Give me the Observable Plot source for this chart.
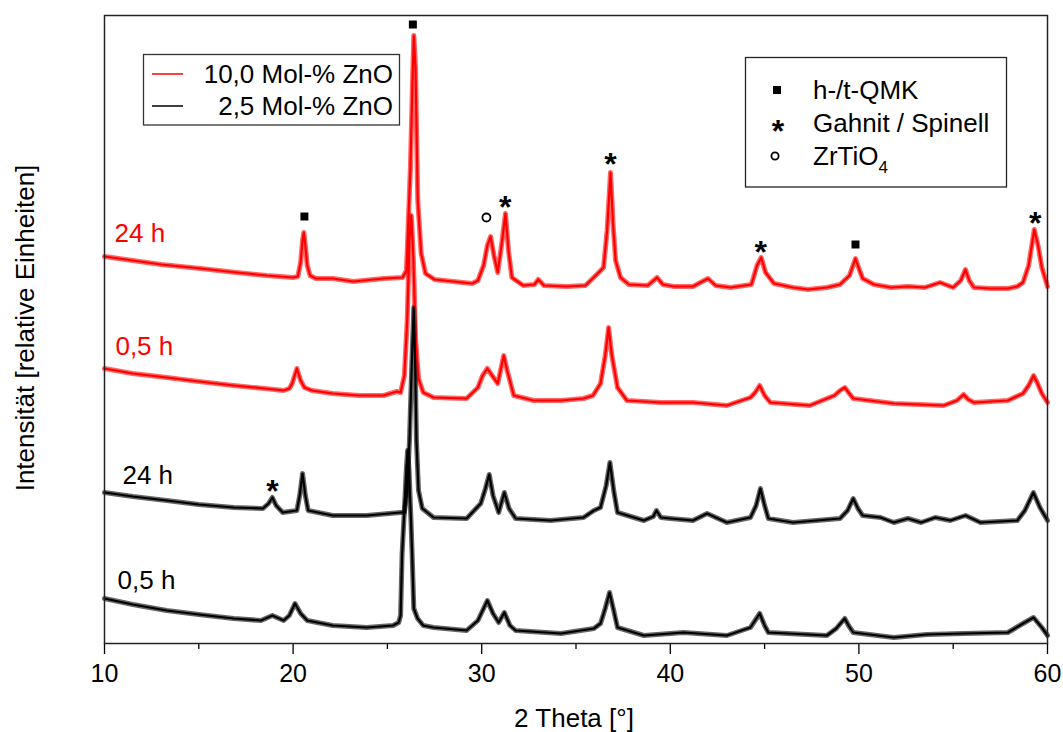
<!DOCTYPE html>
<html><head><meta charset="utf-8">
<script src="https://cdn.jsdelivr.net/npm/d3@7"></script>
<script src="https://cdn.jsdelivr.net/npm/@observablehq/plot@0.6"></script>
<style>
body{margin:0;background:#fff}
#chart{position:relative;width:1063px;height:732px}
</style>
</head><body><div id="chart"></div>
<script>
// ---- data: [2 Theta (°), intensity (relative units)] ----
const majorTicks = [10, 20, 30, 40, 50, 60];
const minorTicks = [15, 25, 35, 45, 55];

const red24h = [[10,387],[11.5,383],[13,379],[15.1,375],[17,371],[18.6,368],[20,366],[20.25,367],[20.4,381],[20.5,403],[20.57,411],[20.65,398],[20.75,378],[20.9,368],[21.2,365],[22.1,365],[23.2,362],[24.8,365],[25.8,366],[26.01,373],[26.22,476],[26.33,560],[26.4,608],[26.49,576],[26.61,443],[26.79,390],[27.02,370],[27.5,364],[28.5,362],[29.5,360],[29.8,363],[30.1,378],[30.3,398],[30.47,407],[30.65,388],[30.85,371],[31.05,398],[31.26,430],[31.42,393],[31.6,366],[32.2,358],[32.8,359],[33,364],[33.3,358],[34.5,357],[35.5,358],[36.1,369],[36.46,376],[36.65,413],[36.83,471],[36.97,418],[37.1,383],[37.36,366],[37.8,359],[38.8,358],[39.3,366],[39.6,359],[40.2,357],[41.2,357],[42,365],[42.4,358],[43.2,356],[44.3,359],[44.6,378],[44.82,386],[45.05,371],[45.5,360],[46.5,356],[47.3,354],[48.3,356],[49,359],[49.5,368],[49.82,385],[50,375],[50.2,365],[50.8,359],[51.7,356],[52.6,357],[53.5,356],[54.3,361],[55,356],[55.4,363],[55.65,374],[55.85,363],[56.1,356],[57,355],[57.9,355],[58.4,357],[58.7,361],[59,378],[59.3,414],[59.5,398],[59.7,376],[60,357]];

const red05h = [[10,275],[11.5,270],[13.3,266],[15,262],[16.85,258],[18.5,255],[19.5,253],[19.8,255],[19.95,260],[20.2,275],[20.4,263],[20.6,256],[21,253],[22.1,250],[23.5,248],[24.8,248],[25.5,252],[25.7,251],[25.9,268],[26.05,323],[26.17,403],[26.27,428],[26.38,383],[26.5,303],[26.65,265],[26.9,251],[27.45,246],[29.2,245],[29.8,256],[30.05,268],[30.3,275],[30.55,268],[30.85,260],[31,273],[31.17,288],[31.35,273],[31.7,248],[32.75,243],[34.2,243],[35.4,245],[35.9,248],[36.3,260],[36.55,288],[36.73,316],[36.9,288],[37.2,256],[37.7,243],[39.5,241],[41.2,241],[43,238],[44.25,246],[44.5,251],[44.74,258],[45,248],[45.3,241],[47.4,238],[48.7,248],[49,253],[49.25,256],[49.45,251],[49.7,245],[51.85,240],[54.5,238],[55.2,243],[55.55,249],[55.8,244],[56.1,241],[57.9,243],[58.7,250],[59,258],[59.26,268],[59.45,261],[59.7,250],[60,241]];

const black24h = [[10,151],[11.5,147],[13.3,143],[15,139],[16.85,136],[18.4,135],[18.7,140],[18.9,146],[19.1,138],[19.45,131],[20.2,133],[20.35,148],[20.5,170],[20.65,148],[20.8,133],[22.1,128],[23.9,128],[25.7,131],[25.9,131],[26.05,153],[26.17,203],[26.3,283],[26.4,336],[26.47,283],[26.54,203],[26.65,153],[26.85,135],[27.45,126],[29.2,125],[29.95,140],[30.2,155],[30.4,169],[30.6,148],[30.9,131],[31.2,151],[31.45,135],[31.8,125],[33.65,123],[35.4,126],[35.95,133],[36.3,136],[36.6,158],[36.8,181],[37,153],[37.2,131],[38.6,123],[39.1,127],[39.27,133],[39.5,126],[40,125],[41.2,123],[41.95,130],[43,121],[44.25,126],[44.55,138],[44.78,155],[45,138],[45.2,125],[46.5,121],[49,125],[49.4,133],[49.7,145],[49.95,135],[50.2,128],[51.15,126],[51.85,121],[52.6,125],[53.3,121],[54.05,126],[54.85,123],[55.65,128],[56.45,121],[58.4,123],[58.8,133],[59.25,151],[59.6,136],[60,123]];

const black05h = [[10,45],[11.5,39],[13.3,33],[15,29],[16.85,25],[18.3,23],[18.9,28],[19.5,23],[19.8,28],[20.1,40],[20.4,30],[20.75,23],[22.1,18],[23.9,16],[25.3,18],[25.6,21],[25.7,28],[25.78,90],[25.9,133],[26,173],[26.07,193],[26.15,173],[26.25,123],[26.31,90],[26.4,35],[26.6,25],[26.9,18],[27.45,16],[29.2,13],[29.8,23],[30.3,43],[30.6,30],[30.9,21],[31.2,31],[31.5,18],[31.8,13],[34.2,10],[34.55,11],[35.95,15],[36.3,20],[36.55,35],[36.78,51],[37,33],[37.2,16],[38.6,8],[40.7,11],[43,8],[44.25,16],[44.74,30],[45,18],[45.2,11],[48.3,8],[48.8,15],[49.25,25],[49.45,18],[49.7,11],[51.85,6],[53.6,9],[55.55,10],[57.9,11],[58.7,20],[59.26,26],[59.7,16],[60,8]];

const series = [
  {name: "10,0 Mol-% ZnO 0,5 h", color: "#ff0000", values: red05h},
  {name: "10,0 Mol-% ZnO 24 h", color: "#ff0000", values: red24h},
  {name: "2,5 Mol-% ZnO 24 h", color: "#000000", values: black24h},
  {name: "2,5 Mol-% ZnO 0,5 h", color: "#000000", values: black05h}
];

// phase markers above peaks: [2 Theta, level]
const squareMarks = [[26.35,619],[20.6,427],[49.82,399]];
const starMarks = [[31.25,445],[36.83,488],[44.8,400],[59.35,429],[18.9,161]];
const circleMarks = [[30.25,426]];

// sample labels: [2 Theta, level, text, colour]
const sampleLabels = [[10.53,410,"24 h","#ff0000"],[10.58,297,"0,5 h","#ff0000"],[10.95,168,"24 h","#000000"],[10.69,63,"0,5 h","#000000"]];

const legendSeries = [["10,0 Mol-% ZnO","#ff0000"],["2,5 Mol-% ZnO","#000000"]];
const legendPhases = ["h-/t-QMK","Gahnit / Spinell","ZrTiO"];

// ---- plot ----
const rows = series.flatMap(s => s.values.map(([x, y]) => ({x, y, name: s.name, color: s.color})));
const FONT = "Liberation Sans, Arial, sans-serif";

const chart = Plot.plot({
  width: 1063, height: 732,
  marginLeft: 104, marginRight: 16, marginTop: 15, marginBottom: 89,
  x: {domain: [10, 60]},
  y: {domain: [0, 628], axis: null},
  style: {fontFamily: FONT, background: "#fff", color: "#000"},
  marks: [
    Plot.axisX({ticks: majorTicks, tickSize: 11, tickPadding: 10, fontSize: 25, label: null, strokeWidth: 1.3, tickFormat: d => d}),
    Plot.axisX({ticks: minorTicks, tickSize: 6, tickFormat: () => "", label: null, strokeWidth: 1.3}),
    Plot.line(rows, {x: "x", y: "y", z: "name", stroke: "color", strokeWidth: 5, strokeOpacity: 0.6, strokeLinejoin: "round"}),
    Plot.line(rows, {x: "x", y: "y", z: "name", stroke: "color", strokeWidth: 2.2}),
    Plot.frame({stroke: "#222", strokeWidth: 1.5}),
    Plot.dot(squareMarks, {x: d => d[0], y: d => d[1], symbol: "square", fill: "#000", r: 4.5}),
    Plot.dot(circleMarks, {x: d => d[0], y: d => d[1], symbol: "circle", fill: "none", stroke: "#000", strokeWidth: 1.8, r: 4}),
    Plot.text(starMarks, {x: d => d[0], y: d => d[1], text: () => "*", fontSize: 32, fontWeight: "bold", dy: 9, fill: "#000"}),
    Plot.text(sampleLabels, {x: d => d[0], y: d => d[1], text: d => d[2], fill: d => d[3], textAnchor: "start", fontSize: 26})
  ]
});
document.getElementById("chart").appendChild(chart);

// ---- titles and legends (drawn into the same svg) ----
const svg = d3.select(chart);
const g = svg.append("g").attr("font-family", FONT).attr("font-size", 26).attr("fill", "#000").attr("text-anchor", "start");

g.append("text").attr("x", 574).attr("y", 718).attr("text-anchor", "middle").attr("dy", "0.35em").text("2 Theta [°]");
g.append("text").attr("transform", "translate(25,328) rotate(-90)").attr("text-anchor", "middle").attr("dy", "0.35em").text("Intensität [relative Einheiten]");

// series legend
g.append("rect").attr("x", 143.5).attr("y", 54.5).attr("width", 256).attr("height", 70.5).attr("fill", "#fff").attr("stroke", "#333").attr("stroke-width", 1.3);
legendSeries.forEach(([label, color], i) => {
  const cy = 74 + i * 32;
  g.append("line").attr("x1", 152).attr("x2", 183).attr("y1", cy).attr("y2", cy).attr("stroke", color).attr("stroke-width", 1.5);
  g.append("text").attr("x", 393).attr("y", cy).attr("dy", "0.35em").attr("text-anchor", "end").text(label);
});

// phase legend
g.append("rect").attr("x", 745.5).attr("y", 57.5).attr("width", 261).attr("height", 129.5).attr("fill", "#fff").attr("stroke", "#222").attr("stroke-width", 1.3);
const ly = [90, 123, 156];
g.append("rect").attr("x", 773).attr("y", ly[0] - 4).attr("width", 8).attr("height", 8).attr("fill", "#000");
g.append("text").attr("x", 778).attr("y", ly[1]).attr("dy", "0.6em").attr("text-anchor", "middle").attr("font-size", 32).attr("font-weight", "bold").text("*");
g.append("circle").attr("cx", 775).attr("cy", ly[2]).attr("r", 3.6).attr("fill", "none").attr("stroke", "#000").attr("stroke-width", 1.8);
legendPhases.forEach((label, i) => {
  const t = g.append("text").attr("x", 813).attr("y", ly[i]).attr("dy", "0.35em").attr("text-anchor", "start").text(label);
  if (i === 2) t.append("tspan").attr("font-size", 17).attr("dy", "0.45em").text("4");
});
</script>
</body></html>
